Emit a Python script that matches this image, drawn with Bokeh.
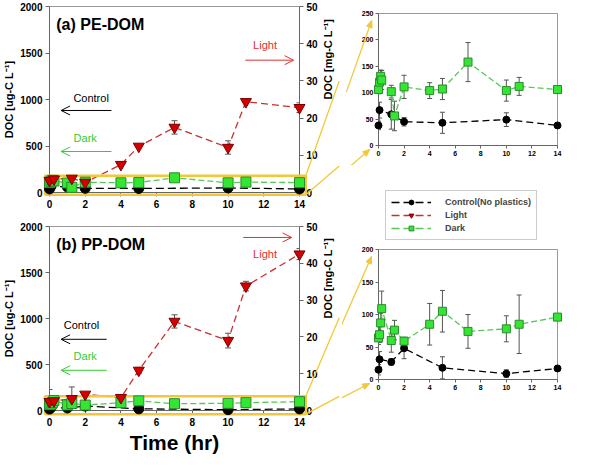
import math
from bokeh.plotting import figure
from bokeh.models import Range1d, LinearAxis, FixedTicker, Arrow, OpenHead, Legend, LegendItem
from bokeh.layouts import row, column
from bokeh.embed import file_html
from bokeh.resources import INLINE
from bokeh.core.properties import value

FONT = "Liberation Sans"

# ---------------- data ----------------
time_ticks = [0, 2, 4, 6, 8, 10, 12, 14]

# Control (no plastics), ug-C/L
t_ctrl = [0, 0.083, 1, 2, 5, 10, 14]
ctrl_pe = [38, 67, 59, 45, 43, 49, 38]
ctrl_pe_err = [8, 15, 28, 8, 20, 13, 4]
ctrl_pp = [15, 31, 27, 48, 18, 9, 17]
ctrl_pp_err = [8, 12, 5, 16, 17, 6, 3]

# Dark, ug-C/L
t_dark = [0, 0.083, 0.167, 0.25, 1, 1.25, 2, 4, 5, 7, 10, 11, 14]
dark_pe = [106, 120, 131, 124, 102, 56, 111, 104, 107, 158, 104, 112, 106]
dark_pe_err = [8, 10, 12, 18, 12, 28, 22, 15, 20, 37, 20, 17, 5]
dark_pp = [64, 69, 87, 109, 60, 76, 59, 85, 105, 74, 78, 85, 96]
dark_pp_err = [10, 12, 15, 27, 18, 15, 6, 32, 32, 26, 20, 45, 4]

# Light, mg-C/L (right axis)
t_light = [0, 0.25, 1.25, 2, 4, 5, 7, 10, 11, 14]
light_pe = [3.2, 3.6, 3.8, 2.7, 7.5, 12.4, 17.5, 12.1, 24.4, 22.8]
light_pe_err = [0.5, 0.4, 0.5, 0.3, 0.3, 0.3, 1.8, 1.8, 0.4, 1.3]
light_pp = [2.4, 2.6, 3.2, 4.4, 3.5, 10.9, 24.2, 19.0, 33.8, 42.5]
light_pp_err = [3.3, 1.0, 3.2, 0.5, 0.8, 0.8, 1.8, 2.0, 1.3, 1.5]

# ---------------- style ----------------
C_CTRL = "#000000"
C_LIGHT_LINE = "#c83030"
C_LIGHT_FILL = "#d40000"
C_LIGHT_EDGE = "#7a0000"
C_DARK_LINE = "#55c855"
C_DARK_FILL = "#33e633"
C_DARK_EDGE = "#2d8a2d"
C_AXIS = "#666666"
C_FRAME = "#9a9a9a"
C_ZOOM = "#f2c83a"
C_ERR = "#555555"


def geom(**k):
    k["fw"] = k["W"] - k["bl"] - k["br"]
    k["fh"] = k["H"] - k["bt"] - k["bb"]
    return k


GA = geom(left=0, top=0, W=342, H=214, bl=45, br=39, bt=6, bb=22, xr=(0, 14), yr=(0, 2000))
GB = geom(left=0, top=214, W=342, H=244, bl=45, br=39, bt=12, bb=48, xr=(0, 14), yr=(0, 2000))
GIA = geom(left=342, top=0, W=240, H=165, bl=31, br=25, bt=13, bb=20, xr=(0, 14), yr=(0, 250))
GIB = geom(left=342, top=240, W=240, H=161, bl=36, br=24, bt=9, bb=22, xr=(0, 14), yr=(0, 200))


def to_page(g, x, y):
    x0, x1 = g["xr"]
    y0, y1 = g["yr"]
    px = g["left"] + g["bl"] + (x - x0) / (x1 - x0) * g["fw"]
    py = g["top"] + g["bt"] + g["fh"] - (y - y0) / (y1 - y0) * g["fh"]
    return px, py


def to_data(g, px, py):
    x0, x1 = g["xr"]
    y0, y1 = g["yr"]
    x = x0 + (px - g["left"] - g["bl"]) / g["fw"] * (x1 - x0)
    y = y0 + (g["top"] + g["bt"] + g["fh"] - py) / g["fh"] * (y1 - y0)
    return x, y


def make_fig(g, **kw):
    p = figure(width=g["W"], height=g["H"], x_range=Range1d(*g["xr"]), y_range=Range1d(*g["yr"]),
               output_backend="svg", toolbar_location=None,
               min_border_left=g["bl"], min_border_right=g["br"],
               min_border_top=g["bt"], min_border_bottom=g["bb"], **kw)
    p.grid.visible = False
    p.outline_line_color = C_FRAME
    p.background_fill_color = "white"
    p.border_fill_color = "white"
    return p


def style_axis(ax, tick_size, label_size="11px", ticks=None):
    ax.axis_line_color = C_AXIS
    ax.major_tick_line_color = C_AXIS
    ax.minor_tick_line_color = None
    ax.major_tick_out = 4
    ax.major_tick_in = 0
    ax.major_label_standoff = 3
    ax.major_label_text_font = FONT
    ax.major_label_text_font_style = "bold"
    ax.major_label_text_font_size = tick_size
    ax.major_label_text_color = "#000000"
    ax.axis_label_text_font = FONT
    ax.axis_label_text_font_style = "bold"
    ax.axis_label_text_font_size = label_size
    ax.axis_label_text_color = "#000000"
    ax.axis_label_standoff = 2
    if ticks is not None:
        ax.ticker = FixedTicker(ticks=ticks)


def add_series(p, t, v, e, line_color, dash, marker, fill, edge, size, yname="default", cap=6):
    lo = [a - b for a, b in zip(v, e)]
    hi = [a + b for a, b in zip(v, e)]
    p.segment(x0=t, y0=lo, x1=t, y1=hi, line_color=C_ERR, line_width=1, y_range_name=yname)
    p.scatter(x=t, y=hi, marker="dash", size=cap, line_color=C_ERR, y_range_name=yname)
    p.scatter(x=t, y=lo, marker="dash", size=cap, line_color=C_ERR, y_range_name=yname)
    p.line(x=t, y=v, line_color=line_color, line_dash=dash, line_width=1.3, y_range_name=yname)
    p.scatter(x=t, y=v, marker=marker, size=size, fill_color=fill, line_color=edge,
              y_range_name=yname, level="overlay")


def main_panel(g, title, ctrl, ctrl_e, dark, dark_e, light, light_e, notes, box, xlabel):
    p = make_fig(g)
    p.extra_y_ranges = {"mg": Range1d(0, 50)}
    right = LinearAxis(y_range_name="mg", axis_label="DOC [mg-C L\u207b\u00b9]")
    p.add_layout(right, "right")
    style_axis(p.xaxis[0], "10px", "11px", time_ticks)
    style_axis(p.yaxis[0], "10px", "11px", [0, 500, 1000, 1500, 2000])
    style_axis(right, "10px", "11px", [0, 10, 20, 30, 40, 50])
    right.axis_label_orientation = math.pi / 2
    right.axis_label_standoff = 7
    p.yaxis[0].axis_label = "DOC [ug-C L\u207b\u00b9]"
    if xlabel:
        # shared x-axis title, centred under the frame near the page bottom
        cx = (g["xr"][0] + g["xr"][1]) / 2
        _, ty = to_data(g, 0, g["top"] + g["H"] - 16)
        p.text(x=[cx], y=[ty], text=[xlabel], text_font=value(FONT), text_font_style="bold",
               text_font_size="21px", text_align="center", text_baseline="middle", level="overlay")

    # zoom box
    p.quad(left=[box[0]], right=[box[1]], bottom=[box[2]], top=[box[3]], fill_color=None,
           line_color=C_ZOOM, line_width=2.5, level="overlay")

    add_series(p, t_ctrl, ctrl, ctrl_e, C_CTRL, "8 4", "circle", C_CTRL, C_CTRL, 10)
    add_series(p, t_dark, dark, dark_e, C_DARK_LINE, "6 3", "square", C_DARK_FILL, C_DARK_EDGE, 10)
    add_series(p, t_light, light, light_e, C_LIGHT_LINE, "7 4", "inverted_triangle",
               C_LIGHT_FILL, C_LIGHT_EDGE, 11, yname="mg")

    p.text(x=[0.38], y=[1805], text=[title], text_font=value(FONT), text_font_style="bold",
           text_font_size="16px", text_baseline="middle", text_align="left")
    for (txt, tx, ty, color, ay, ax0, ax1) in notes:
        p.text(x=[tx], y=[ty], text=[txt], text_font=value(FONT), text_font_size="11px",
               text_color=color, text_align="center", text_baseline="middle")
        p.add_layout(Arrow(x_start=ax0, y_start=ay, x_end=ax1, y_end=ay, line_color=color, line_width=1,
                           end=OpenHead(size=9, line_color=color, line_width=1)))
    return p


def inset_panel(g, ctrl, ctrl_e, dark, dark_e, yticks):
    p = make_fig(g)
    style_axis(p.xaxis[0], "7px", "7px", time_ticks)
    style_axis(p.yaxis[0], "7px", "7px", yticks)
    for ax in (p.xaxis[0], p.yaxis[0]):
        ax.major_tick_out = 3
        ax.major_label_standoff = 2
    add_series(p, t_ctrl, ctrl, ctrl_e, C_CTRL, "7 4", "circle", C_CTRL, C_CTRL, 7, cap=5)
    add_series(p, t_dark, dark, dark_e, C_DARK_LINE, "6 3", "square", C_DARK_FILL, C_DARK_EDGE, 8, cap=5)
    return p


notes_a = [
    ("Light", 12.07, 1581, "#e03030", 1423, 10.96, 13.67),
    ("Control", 2.33, 1021, "#000000", 882, 3.47, 0.65),
    ("Dark", 2.0, 581, "#33cc33", 441, 3.47, 0.65),
]
notes_b = [
    ("Light", 12.07, 1696, "#e03030", 1881, 10.85, 13.56),
    ("Control", 1.79, 927, "#000000", 774, 3.2, 0.65),
    ("Dark", 2.0, 589, "#33cc33", 437, 3.2, 0.65),
]
BOX_A = (-0.25, 14.35, -25, 180)
BOX_B = (-0.25, 14.35, -40, 155)

pa = main_panel(GA, "(a) PE-DOM", ctrl_pe, ctrl_pe_err, dark_pe, dark_pe_err, light_pe, light_pe_err,
                notes_a, BOX_A, None)
pb = main_panel(GB, "(b) PP-DOM", ctrl_pp, ctrl_pp_err, dark_pp, dark_pp_err, light_pp, light_pp_err,
                notes_b, BOX_B, "Time (hr)")
ia = inset_panel(GIA, ctrl_pe, ctrl_pe_err, dark_pe, dark_pe_err, [0, 50, 100, 150, 200, 250])
ib = inset_panel(GIB, ctrl_pp, ctrl_pp_err, dark_pp, dark_pp_err, [0, 50, 100, 150, 200])


# connectors from zoom boxes to insets
def connector(src_g, src_p, src_pt, dst_g, dst_p, corner, offset):
    p0 = to_page(src_g, *src_pt)
    c = to_page(dst_g, *corner)
    tip = (c[0] + offset[0], c[1] + offset[1])
    xb = dst_g["left"]
    dx, dy = tip[0] - p0[0], tip[1] - p0[1]
    s = (xb - p0[0]) / dx
    ymid = p0[1] + s * dy
    slope = dy / dx
    a0 = to_data(src_g, *p0)
    a1 = to_data(src_g, xb + 2, ymid + 2 * slope)
    src_p.segment(x0=[a0[0]], y0=[a0[1]], x1=[a1[0]], y1=[a1[1]], line_color=C_ZOOM, line_width=1.3,
                  level="overlay")
    b0 = to_data(dst_g, xb - 2, ymid - 2 * slope)
    b1 = to_data(dst_g, *tip)
    dst_p.segment(x0=[b0[0]], y0=[b0[1]], x1=[b1[0]], y1=[b1[1]], line_color=C_ZOOM, line_width=1.3,
                  level="overlay")
    L = math.hypot(dx, dy)
    ux, uy = dx / L, dy / L
    nx, ny = -uy, ux
    bx, by = tip[0] - 7 * ux, tip[1] - 7 * uy
    pts = [tip, (bx + 3 * nx, by + 3 * ny), (bx - 3 * nx, by - 3 * ny)]
    dpts = [to_data(dst_g, *q) for q in pts]
    dst_p.patch(x=[q[0] for q in dpts], y=[q[1] for q in dpts], fill_color=C_ZOOM, line_color=C_ZOOM,
                level="overlay")


connector(GA, pa, (BOX_A[1], BOX_A[3]), GIA, ia, (0, 250), (-7, 7))
connector(GA, pa, (BOX_A[1], BOX_A[2]), GIA, ia, (0, 0), (-9, 4))
connector(GB, pb, (BOX_B[1], BOX_B[3]), GIB, ib, (0, 200), (-7, 7))
connector(GB, pb, (BOX_B[1], BOX_B[2]), GIB, ib, (0, 0), (-9, 4))

# legend figure (glyph samples sit outside its visible range; only the legend shows)
pl = figure(width=240, height=75, output_backend="svg", toolbar_location=None,
            x_range=Range1d(10, 11), y_range=Range1d(10, 11),
            x_axis_location=None, y_axis_location=None,
            min_border_left=0, min_border_right=0, min_border_top=0, min_border_bottom=0)
pl.grid.visible = False
pl.outline_line_color = None
r1 = pl.line([0, 1], [0, 0], line_color=C_CTRL, line_dash="8 4", line_width=1.3)
m1 = pl.scatter([0], [0], marker="circle", size=9, fill_color=C_CTRL, line_color=C_CTRL)
r2 = pl.line([0, 1], [0, 0], line_color=C_LIGHT_LINE, line_dash="8 4", line_width=1.3)
m2 = pl.scatter([0], [0], marker="inverted_triangle", size=10, fill_color=C_LIGHT_FILL, line_color=C_LIGHT_EDGE)
r3 = pl.line([0, 1], [0, 0], line_color=C_DARK_LINE, line_dash="8 4", line_width=1.3)
m3 = pl.scatter([0], [0], marker="square", size=9, fill_color=C_DARK_FILL, line_color=C_DARK_EDGE)
legend = Legend(items=[LegendItem(label="Control(No plastics)", renderers=[r1, m1]),
                       LegendItem(label="Light", renderers=[r2, m2]),
                       LegendItem(label="Dark", renderers=[r3, m3])],
                location=(7, 0), glyph_width=40, glyph_height=12, label_standoff=14, padding=5,
                spacing=1, label_height=12, margin=0, border_line_color=C_FRAME,
                label_text_font=FONT, label_text_font_style="bold", label_text_font_size="9px")
pl.add_layout(legend)

layout = row(column(pa, pb), column(ia, pl, ib))
open("out.html", "w").write(file_html(layout, INLINE))
